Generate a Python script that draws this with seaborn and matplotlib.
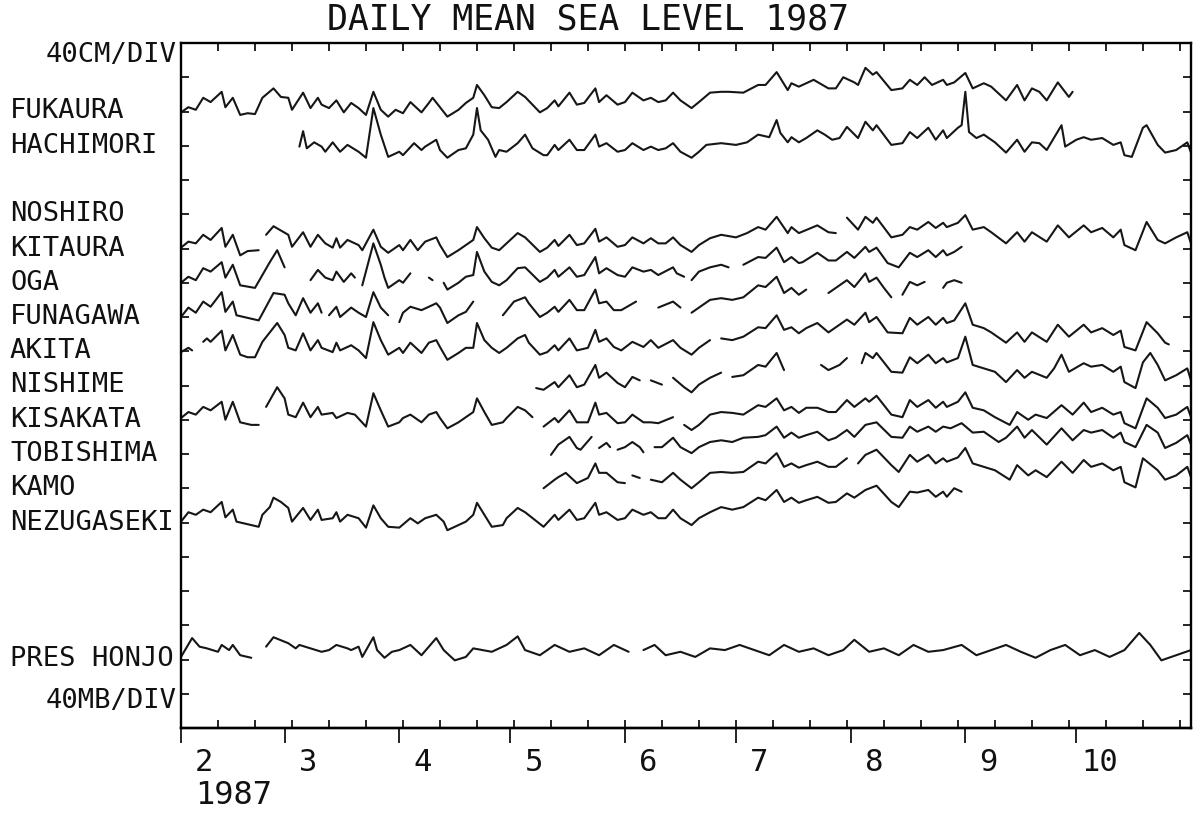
import matplotlib
matplotlib.use("Agg")
import matplotlib.pyplot as plt
import numpy as np
import pandas as pd
import seaborn as sns

# ---------------- data: (day since 1 Feb 1987, anomaly in cm / mb); None = gap ----------------
FUKAURA = [(0,-1),(2,5),(4,2),(6,16),(8,11),(11,23),(12,5),(14,16),(16,-4),(18,-2),(20,-3),(22,16),(25,27),(27,17),(29,16),(30,2),(33,22),(35,4),(37,16),(38,8),(40,4),(42,13),(44,-1),(46,10),(48,4),(50,-4),(52,23),(54,2),(56,-6),(58,2),(60,-2),(62,11),(65,-1),(67,10),(68,16),(70,5),(72,-6),(75,2),(77,10),(79,16),(80,31),(82,19),(84,5),(86,4),(88,11),(91,23),(93,17),(97,-1),(99,4),(101,13),(102,6),(105,22),(107,8),(109,10),(112,27),(113,11),(115,19),(118,8),(120,11),(122,22),(125,13),(127,16),(129,11),(131,13),(133,22),(135,13),(138,4),(140,11),(143,22),(146,23),(148,23),(152,22),(156,31),(158,31),(161,46),(164,25),(165,33),(167,29),(171,37),(175,27),(177,27),(179,40),(182,34),(183,31),(185,51),(187,43),(188,46),(192,25),(195,27),(197,37),(199,31),(201,40),(203,31),(206,37),(207,31),(209,34),(212,45),(214,27),(217,33),(219,29),(223,13),(226,31),(228,13),(230,27),(232,23),(234,13),(237,34),(240,17),(241,23)]

HACHIMORI = [(32,-1),(33,17),(34,-3),(36,4),(38,-1),(39,-7),(41,4),(43,-7),(45,1),(48,-7),(50,-14),(52,44),(54,13),(56,-13),(59,-7),(60,-11),(63,3),(65,-5),(66,-1),(69,7),(70,-5),(72,-14),(75,-5),(77,-3),(79,13),(80,44),(81,18),(83,7),(85,-13),(86,-5),(88,-7),(91,3),(93,13),(95,-3),(98,-11),(99,-11),(101,1),(102,-5),(105,7),(107,-5),(109,-5),(112,13),(113,-1),(115,3),(118,-7),(120,-5),(122,3),(125,-5),(127,-1),(129,-5),(131,-3),(133,3),(135,-7),(138,-14),(140,-7),(142,1),(146,3),(150,1),(153,4),(156,13),(159,10),(161,30),(162,15),(164,4),(165,10),(167,4),(169,9),(172,18),(174,13),(176,7),(178,9),(180,22),(183,9),(185,28),(187,18),(188,24),(192,1),(195,3),(197,16),(199,9),(202,21),(204,7),(206,18),(207,9),(210,21),(211,24),(212,63),(213,16),(215,9),(217,13),(220,4),(223,-8),(226,7),(228,-7),(230,4),(232,3),(234,-5),(238,24),(239,-1),(242,7),(244,10),(246,7),(249,9),(252,1),(254,4),(255,-11),(257,-13),(260,21),(261,24),(264,1),(266,-8),(269,-5),(272,4),(273,-8)]

NOSHIRO = []

KITAURA = [(0,1),(2,8),(4,6),(6,16),(8,10),(11,24),(12,2),(14,16),(16,-8),(18,-3),(21,-2),None,(23,16),(25,26),(29,16),(30,2),(33,19),(35,2),(37,16),(39,6),(41,1),(42,12),(43,1),(45,10),(48,4),(49,-2),(52,22),(54,2),(56,-5),(59,4),(60,-2),(62,10),(64,-2),(66,8),(69,13),(70,4),(72,-10),(75,-2),(77,4),(79,10),(80,25),(82,12),(84,1),(86,-2),(88,6),(91,18),(93,13),(97,-4),(99,1),(101,10),(102,3),(105,16),(107,4),(109,6),(112,23),(113,8),(115,13),(118,2),(120,4),(122,13),(125,6),(127,12),(129,6),(131,6),(133,13),(135,4),(138,-4),(140,4),(143,12),(146,16),(150,13),(153,18),(156,25),(158,22),(161,37),(164,18),(165,25),(167,18),(172,27),(175,19),(177,18),None,(180,36),(183,22),(185,37),(187,30),(188,36),(192,13),(195,16),(197,25),(199,22),(202,31),(204,24),(206,30),(207,25),(210,30),(212,39),(214,22),(217,25),(219,19),(223,6),(226,19),(228,8),(230,19),(234,8),(237,27),(240,13),(244,27),(246,19),(249,24),(252,13),(254,22),(255,4),(258,-2),(261,31),(264,10),(266,6),(269,13),(272,19),(273,6)]

OGA = [(0,0),(2,7),(4,3),(6,17),(8,13),(11,24),(12,6),(14,21),(16,-3),(20,-6),(22,9),(24,24),(26,38),(28,18),None,(35,3),(37,15),(39,6),(41,3),(42,13),(44,1),(46,11),(47,6),None,(49,-3),(52,46),(54,21),(55,6),(56,-6),(59,3),(60,0),(62,11),None,(67,6),(68,3),None,(71,0),(72,-8),(75,0),(77,7),(79,9),(80,36),(82,13),(84,1),(86,-3),(88,3),(91,17),(93,18),(97,1),(99,6),(101,15),(102,7),(105,18),(107,7),(109,9),(112,30),(113,11),(115,17),(118,9),(120,7),(122,18),(125,13),(127,15),(129,9),(133,18),(134,11),(136,7),None,(138,3),(140,13),(143,18),(146,21),(148,18),None,(152,21),(156,30),(158,29),(161,41),(163,24),(165,30),(167,23),(168,24),(172,35),(175,26),(177,26),(180,36),(182,29),(185,42),(186,36),(188,41),(191,23),(194,18),(197,35),(199,30),(202,38),(204,30),(206,38),(207,32),(209,36),(211,42)]

FUNAGAWA = [(0,0),(2,11),(4,5),(6,18),(8,12),(11,29),(12,6),(14,18),(15,2),(18,-1),(21,-4),(23,12),(25,28),(28,26),(29,16),(31,2),(33,22),(35,5),(37,16),(38,5),None,(40,2),(42,12),(43,0),(46,11),(48,5),(50,0),(52,29),(54,11),(56,2),None,(59,-6),(60,5),(62,12),(65,8),(67,12),(69,16),(70,11),(72,-7),(75,2),(77,6),(79,18),None,(87,2),(90,18),(93,23),(94,16),(97,0),(99,5),(101,12),(102,6),(105,20),(107,8),(109,8),(112,32),(113,16),(115,18),(117,8),(119,8),(123,18),None,(129,11),(133,18),(135,11),None,(138,5),(140,11),(143,20),(146,22),(149,20),(152,23),(156,37),(158,35),(161,47),(163,28),(165,34),(167,26),(169,32),None,(175,28),(177,34),(180,43),(182,35),(185,51),(186,41),(188,46),(190,34),(192,23),None,(195,26),(197,41),(199,37),(201,41),None,(206,34),(207,40),(209,43),(211,40)]

AKITA = [(0,-1),(2,4),(3,1),None,(6,11),(7,15),(8,11),(11,24),(12,1),(14,19),(16,-4),(18,-7),(20,-7),(22,11),(24,22),(26,33),(28,19),(29,4),(31,1),(33,21),(35,1),(37,13),(38,4),(41,-1),(42,10),(43,1),(46,7),(48,1),(50,-8),(52,34),(54,13),(56,-4),(59,4),(60,-2),(62,10),(65,-2),(67,10),(69,13),(70,5),(72,-10),(75,-2),(77,4),(79,4),(80,33),(82,13),(84,4),(86,-2),(88,4),(91,15),(93,19),(94,10),(97,-4),(99,-1),(101,7),(102,1),(105,15),(107,1),(110,4),(112,25),(113,11),(115,15),(117,5),(119,1),(122,11),(124,7),(125,5),(127,13),(129,4),(133,13),(135,4),(138,-4),(140,4),(143,13),None,(146,15),(149,13),(152,17),(156,28),(158,27),(161,42),(163,25),(165,28),(167,21),(169,27),(172,33),(175,22),(177,28),(180,37),(182,31),(185,45),(186,34),(188,40),(191,22),(195,21),(197,39),(199,31),(202,40),(204,31),(206,39),(207,33),(209,36),(212,56),(214,31),(217,27),(219,22),(223,10),(226,22),(228,11),(230,22),(234,11),(237,31),(240,17),(244,31),(246,22),(249,27),(252,19),(254,24),(255,5),(258,1),(261,34),(264,21),(266,10),(267,8)]

NISHIME = [(96,-3),(98,-5),(101,4),(102,-2),(105,12),(107,-2),(109,1),(112,24),(113,9),(115,15),(118,3),(120,-2),(122,10),(124,6),None,(127,6),(130,1),None,(133,9),(136,-2),(138,-8),(140,1),(143,9),(146,15),None,(149,10),(152,12),(156,24),(158,22),(161,38),(163,18),None,(173,24),(175,18),(178,24),(180,32),None,(184,26),(185,38),(187,32),(188,38),(192,16),(195,15),(197,33),(199,26),(202,36),(204,26),(206,32),(207,27),(210,32),(212,57),(214,24),(217,20),(220,16),(223,4),(226,18),(228,9),(230,16),(234,9),(236,20),(238,36),(240,16),(244,26),(246,22),(249,24),(252,16),(254,22),(255,4),(258,-3),(260,27),(262,38),(264,24),(266,6),(269,12),(272,20),(273,6)]

KISAKATA = [(0,2),(2,9),(4,6),(6,15),(8,11),(11,21),(12,0),(14,21),(15,9),(16,-3),(19,-6),(21,-6),None,(23,15),(26,38),(28,25),(29,6),(31,3),(33,20),(35,3),(37,15),(38,6),(41,8),(42,2),(45,8),(47,6),(50,-8),(52,31),(54,11),(56,-8),(59,-3),(60,2),(62,6),(65,-3),(67,6),(69,9),(70,2),(72,-10),(75,-3),(77,3),(79,9),(80,25),(82,9),(84,-6),(87,-3),(88,2),(91,15),(93,11),(95,3),None,(98,-8),(101,2),(102,-3),(105,11),(107,-3),(110,-3),(112,20),(113,6),(115,8),(118,-4),(120,-3),(122,6),(125,-3),(127,-3),(129,-4),(133,3),None,(136,-6),(138,-12),(140,-6),(143,6),(146,9),(149,8),(152,6),(156,17),(158,15),(161,25),(163,11),(165,15),(167,8),(169,14),(172,14),(175,9),(177,9),(180,23),(182,15),(185,25),(186,21),(188,28),(192,6),(195,3),(197,23),(199,15),(202,23),(204,14),(206,21),(207,15),(210,21),(212,32),(214,14),(217,11),(220,3),(224,-6),(226,9),(229,0),(231,6),(234,2),(238,17),(241,6),(244,20),(246,9),(249,14),(252,6),(254,9),(255,-4),(258,-10),(261,25),(264,14),(266,2),(269,6),(272,15),(273,3)]

TOBISHIMA = [(100,-1),(102,11),(103,14),(105,20),(107,7),(108,5),(111,20),None,(113,7),(115,13),(116,8),None,(118,5),(120,8),(122,14),(124,8),(125,2),None,(128,8),(130,8),(133,19),(135,8),(138,1),(140,8),(143,14),(146,16),(149,14),(152,19),(156,20),(158,22),(161,32),(163,19),(165,25),(167,19),(169,22),(172,26),(175,16),(177,19),(180,28),(182,20),(185,34),(188,37),(192,20),(195,19),(197,32),(199,26),(202,32),(204,26),(206,32),(208,30),(211,36),(214,25),(217,26),(221,14),(223,19),(226,32),(228,19),(230,28),(234,11),(238,30),(241,16),(244,28),(246,25),(249,28),(252,19),(254,25),(255,14),(258,8),(261,34),(264,25),(266,7),(269,13),(272,22),(273,11)]

KAMO = [(98,0),(101,10),(102,13),(104,18),(106,10),(107,6),(110,12),(112,29),(113,18),(115,18),(118,7),(120,6),None,(122,15),(124,12),None,(127,10),(130,7),(133,18),(135,10),(138,0),(140,7),(143,18),(146,19),(149,18),(152,19),(156,31),(158,29),(161,41),(163,25),(165,29),(167,24),(169,27),(172,31),(175,25),(177,25),(180,35),None,(183,29),(185,39),(188,45),(192,27),(194,19),(197,39),(199,31),(202,39),(204,29),(206,35),(207,31),(210,36),(212,47),(214,29),(217,25),(220,21),(224,10),(226,27),(229,15),(231,21),(234,13),(238,31),(241,18),(244,33),(246,25),(249,29),(252,21),(254,25),(255,7),(258,1),(260,35),(264,21),(266,10),(269,15),(272,25),(273,13)]

NEZUGASEKI = [(0,1),(2,12),(4,9),(6,15),(8,12),(11,24),(12,6),(14,15),(15,1),(17,-1),(21,-5),(22,9),(24,18),(25,29),(27,24),(29,17),(30,1),(33,17),(35,3),(37,15),(38,3),(41,5),(42,12),(43,1),(45,9),(48,5),(50,-6),(52,20),(54,5),(56,-5),(59,-6),(62,5),(64,-1),(66,5),(69,9),(71,1),(72,-9),(75,-3),(77,1),(79,9),(80,23),(82,9),(84,-5),(87,-3),(88,5),(91,17),(93,12),(98,-5),(101,9),(102,3),(105,15),(107,3),(109,5),(112,23),(113,9),(115,12),(118,3),(120,5),(122,15),(125,9),(127,12),(129,5),(131,5),(133,15),(135,5),(138,-3),(140,5),(143,12),(146,18),(149,15),(152,18),(156,29),(158,26),(161,38),(163,24),(165,29),(167,23),(169,26),(172,30),(175,23),(177,24),(180,34),(182,29),(185,38),(188,43),(192,24),(194,18),(197,36),(199,35),(202,38),(204,30),(206,36),(207,30),(209,40),(211,36)]

PRES_HONJO = [(0,3),(3,25),(5,15),(7,13),(10,9),(11,17),(13,11),(14,17),(16,5),(18,3),(19,2),None,(23,15),(25,26),(29,19),(31,13),(32,17),(35,13),(38,9),(40,11),(42,17),(45,13),(46,11),(48,15),(49,3),(52,26),(53,11),(55,2),(57,9),(59,11),(62,17),(65,5),(69,25),(71,11),(74,-1),(77,3),(79,13),(84,9),(88,17),(91,27),(93,11),(97,5),(101,17),(105,9),(109,13),(113,5),(117,17),(121,9),None,(125,11),(128,17),(131,5),(135,9),(139,3),(143,13),(147,11),(151,17),(155,11),(159,5),(163,17),(167,9),(171,13),(175,5),(179,11),(182,23),(186,9),(190,13),(194,5),(198,17),(202,9),(206,11),(211,17),(215,5),(219,11),(223,17),(227,9),(231,2),(235,11),(239,17),(243,5),(247,11),(251,3),(255,11),(259,31),(262,17),(265,-1),(269,5),(273,11)]

STATION_NAMES = ["FUKAURA", "HACHIMORI", "NOSHIRO", "KITAURA", "OGA", "FUNAGAWA", "AKITA",
                 "NISHIME", "KISAKATA", "TOBISHIMA", "KAMO", "NEZUGASEKI", "PRES HONJO"]
SERIES = [FUKAURA, HACHIMORI, NOSHIRO, KITAURA, OGA, FUNAGAWA, AKITA,
          NISHIME, KISAKATA, TOBISHIMA, KAMO, NEZUGASEKI, PRES_HONJO]
MONTH_LABELS = ["2", "3", "4", "5", "6", "7", "8", "9", "10"]
MONTH_START_DAY = [0, 28, 59, 89, 120, 150, 181, 212, 242]
UNIT_PER_DIV = 40.0          # 40 cm/div (sea level), 40 mb/div (pressure)

# ---------------- layout ----------------
ROW = [2, 3, 5, 6, 7, 8, 9, 10, 11, 12, 13, 14, 18]   # baseline row (division) of each trace

rows = []
for name, pts, base in zip(STATION_NAMES, SERIES, ROW):
    seg = 0
    for p in pts:
        if p is None:
            seg += 1
            continue
        d, v = p
        rows.append({"station": name, "seg": f"{name}-{seg}", "day": d,
                     "pos": base - v / UNIT_PER_DIV})
df = pd.DataFrame(rows)

sns.set_theme(style="white")
plt.rcParams["font.family"] = ["DejaVu Sans Mono", "DejaVu Sans"]

W, H = 1195, 816
fig = plt.figure(figsize=(W / 100, H / 100), dpi=100)
L, R, T, B = 181, 1191, 43, 728
ax = fig.add_axes([L / W, 1 - B / H, (R - L) / W, (B - T) / H])

sns.lineplot(data=df, x="day", y="pos", units="seg", estimator=None, sort=False,
             color="#161616", linewidth=1.5, ax=ax, legend=False)

ax.set_xlim(0, 273)
ax.set_ylim(20, 0)
ax.set_xlabel("")
ax.set_ylabel("")
ax.set_xticks(np.arange(10, 273, 10))
ax.set_yticks(np.arange(1, 20))
ax.tick_params(axis="both", which="major", direction="in", length=6, width=1.2,
               color="black", bottom=True, top=True, left=True, right=True,
               labelbottom=False, labelleft=False)
for s in ax.spines.values():
    s.set_color("black")
    s.set_linewidth(1.7)

sec = ax.secondary_xaxis("bottom")
sec.set_xticks(MONTH_START_DAY)
sec.set_xticklabels([])
sec.tick_params(direction="out", length=11, width=1.2, color="black", bottom=True)
sec.spines["bottom"].set_color("black")
sec.spines["bottom"].set_linewidth(1.7)

xt = ax.get_xaxis_transform()
for d, lab in zip(MONTH_START_DAY, MONTH_LABELS):
    ax.text(d + 6.3, -0.051, lab, transform=xt, ha="center", va="center",
            fontsize=22, color="#111111")

yt = ax.get_yaxis_transform()
xlab = (10 - L) / (R - L)
for name, base in zip(STATION_NAMES, ROW):
    ax.text(xlab, base, name, transform=yt, ha="left", va="center",
            fontsize=19.5, color="#111111")
ax.text(-0.004, 0.35, "40CM/DIV", transform=yt, ha="right", va="center",
        fontsize=19.5, color="#111111")
ax.text(-0.004, 19.2, "40MB/DIV", transform=yt, ha="right", va="center",
        fontsize=19.5, color="#111111")

fig.text(588 / W, 1 - 20 / H, "DAILY MEAN SEA LEVEL 1987", ha="center", va="center",
         fontsize=25, color="#111111")
fig.text(195 / W, 1 - 795 / H, "1987", ha="left", va="center",
         fontsize=23, color="#111111")

fig.savefig("out.png", dpi=100, facecolor="white")
